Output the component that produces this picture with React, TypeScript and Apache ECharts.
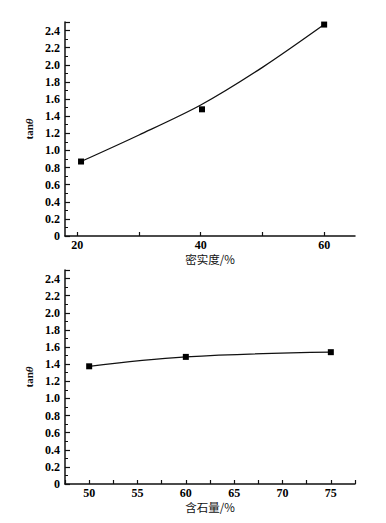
import React, { useEffect, useRef } from "react";
import * as echarts from "echarts";

// Top chart: 密实度 (%) vs tanθ
const densityX = [20.6, 40.2, 60];
const densityTan = [0.87, 1.48, 2.47];
// Fitted curve
const densityCurveX = [20.6, 30, 40, 50, 60];
const densityCurveY = [0.87, 1.18, 1.53, 1.97, 2.47];
const densityTicks = [20, 30, 40, 50, 60];
const densityLabels = [20, 40, 60];

// Bottom chart: 含石量 (%) vs tanθ
const stoneX = [50, 60, 75];
const stoneTan = [1.375, 1.485, 1.54];

const numFont = "Liberation Serif";
const cjkFont = "Noto Sans CJK SC";

export default function App() {
  const ref = useRef<HTMLDivElement>(null);
  useEffect(() => {
    if (!ref.current) return;
    const chart = echarts.init(ref.current, null, { renderer: "svg" });
    const labelStyle = {
      fontFamily: numFont,
      fontWeight: "bold" as const,
      fontSize: 12,
      color: "#000",
    };
    const yAxisBase = (gridIndex: number) => ({
      type: "value",
      gridIndex,
      min: 0,
      max: 2.5,
      interval: 0.2,
      name: "tan{i|θ}",
      nameLocation: "middle",
      nameGap: 24,
      nameRotate: 90,
      nameTextStyle: {
        fontFamily: numFont,
        fontWeight: "bold",
        fontSize: 11,
        color: "#111",
        rich: {
          i: { fontFamily: numFont, fontWeight: "bold", fontStyle: "italic", fontSize: 11, color: "#111" },
        },
      },
      axisLine: { show: true, lineStyle: { color: "#111", width: 1.5 } },
      axisTick: { show: true, inside: true, length: 5, lineStyle: { color: "#111", width: 1.2 } },
      minorTick: { show: true, splitNumber: 2, length: 3, lineStyle: { color: "#111", width: 1 } },
      splitLine: { show: false },
      axisLabel: {
        margin: 5,
        ...labelStyle,
        formatter: (v: number) => (v > 2.45 ? "" : v === 0 ? "0" : v.toFixed(1)),
      },
    });
    const xAxisStyle = {
      axisLine: { show: true, onZero: false, lineStyle: { color: "#111", width: 1.5 } },
      splitLine: { show: false },
      nameLocation: "middle",
      nameTextStyle: { fontFamily: cjkFont, fontWeight: "normal", fontSize: 11.5, color: "#111" },
    };
    chart.setOption({
      animation: false,
      backgroundColor: "#fff",
      textStyle: { fontFamily: numFont, fontWeight: "bold", color: "#000" },
      grid: [
        { left: 65, top: 22, right: 31, bottom: 287, containLabel: false },
        { left: 65, top: 270, right: 31, bottom: 39, containLabel: false },
      ],
      xAxis: [
        {
          type: "value",
          gridIndex: 0,
          min: 18,
          max: 65,
          name: "密实度/%",
          nameGap: 17,
          ...xAxisStyle,
          axisTick: {
            show: true,
            inside: true,
            length: 4,
            customValues: densityTicks,
            lineStyle: { color: "#111", width: 1.2 },
          },
          axisLabel: {
            margin: 3,
            ...labelStyle,
            customValues: densityLabels,
          },
        },
        {
          type: "value",
          gridIndex: 1,
          min: 47.5,
          max: 77.5,
          interval: 2.5,
          name: "含石量/%",
          nameGap: 17,
          ...xAxisStyle,
          axisTick: { show: true, inside: true, length: 4, lineStyle: { color: "#111", width: 1.2 } },
          axisLabel: {
            margin: 3,
            ...labelStyle,
            showMinLabel: true,
            showMaxLabel: true,
            formatter: (v: number) => (Math.abs(v % 5) < 1e-6 && v < 77 ? String(v) : ""),
          },
        },
      ],
      yAxis: [yAxisBase(0), yAxisBase(1)],
      series: [
        {
          type: "line",
          xAxisIndex: 0,
          yAxisIndex: 0,
          smooth: 0.3,
          showSymbol: false,
          symbol: "none",
          lineStyle: { color: "#111", width: 1.3 },
          data: densityCurveX.map((x, i) => [x, densityCurveY[i]]),
          z: 2,
        },
        {
          type: "scatter",
          xAxisIndex: 0,
          yAxisIndex: 0,
          symbol: "rect",
          symbolSize: 6,
          itemStyle: { color: "#000", opacity: 1 },
          data: densityX.map((x, i) => [x, densityTan[i]]),
          z: 3,
        },
        {
          type: "line",
          xAxisIndex: 1,
          yAxisIndex: 1,
          smooth: 0.4,
          symbol: "rect",
          symbolSize: 6,
          showSymbol: true,
          itemStyle: { color: "#000", opacity: 1 },
          lineStyle: { color: "#111", width: 1.3 },
          data: stoneX.map((x, i) => [x, stoneTan[i]]),
        },
      ],
    });
    return () => chart.dispose();
  }, []);
  return <div ref={ref} style={{ width: 386, height: 523, position: "absolute", left: 0, top: 0 }} />;
}
